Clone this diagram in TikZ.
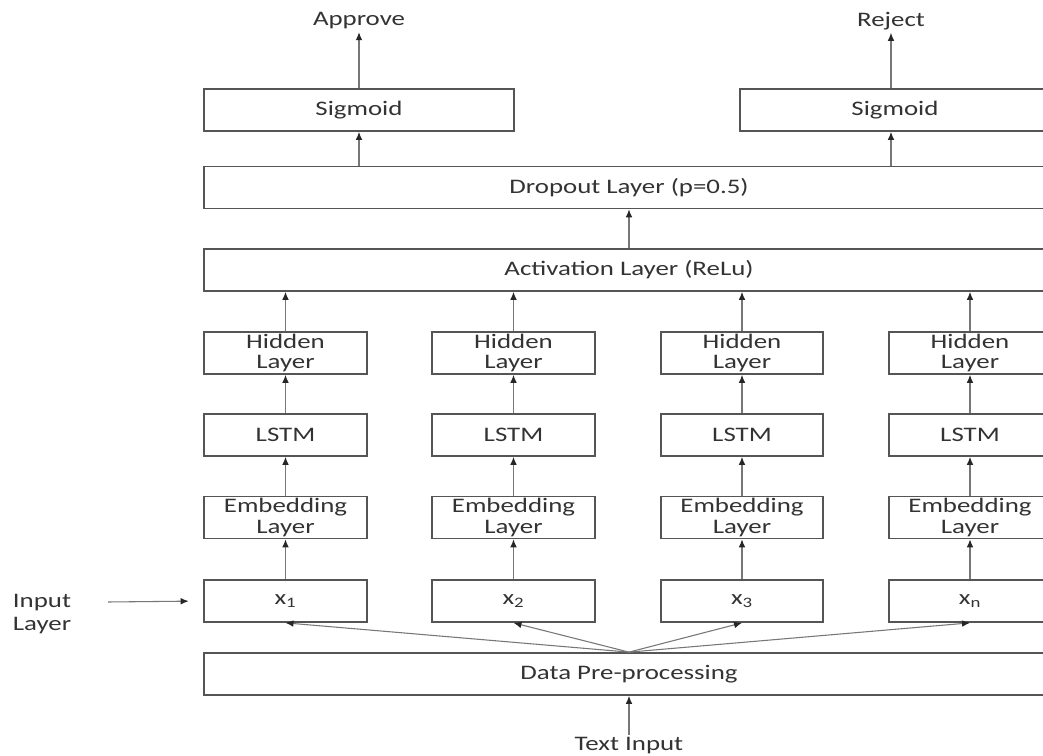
\documentclass[tikz,border=0pt]{standalone}
\usepackage{fontspec}
\setmainfont[FakeStretch=1.3]{Carlito}
\usetikzlibrary{arrows.meta,positioning}
\definecolor{boxline}{HTML}{555555}
\definecolor{arrline}{HTML}{777777}
\definecolor{txt}{HTML}{333333}
\begin{document}
\begin{tikzpicture}[x=0.75pt,y=-0.75pt,>={Latex[length=6pt,width=5pt,color=black!85]},
  layer/.style={draw=boxline,line width=1.3pt,fill=white,inner sep=0pt,minimum height=31.5pt,text=txt,font=\fontsize{15.5}{15.5}\selectfont,align=center},
  col node/.style={layer,minimum width=122pt},
  wide node/.style={layer,minimum width=637.5pt},
  out node/.style={layer,minimum width=232.5pt},
  flow/.style={->,draw=arrline,line width=0.8pt},
  lbl/.style={text=txt,font=\fontsize{15.5}{17}\selectfont,inner sep=2pt}]
\useasboundingbox (0,0) rectangle (1043,756);
\fill[white] (0,0) rectangle (1043,756);
\clip (0,0) rectangle (1043,756);
% output part
\node[lbl] (approve) at (359,21) {Approve};
\node[lbl] (reject) at (891,21) {Reject};
\node[out node] (sig1) at (359,110) {Sigmoid};
\node[out node] (sig2) at (895,110) {Sigmoid};
\node[wide node] (drop) at (629,187.5) {Dropout Layer (p=0.5)};
\node[wide node] (act) at (629,270) {Activation Layer (ReLu)};
% the four columns
\node[col node] (h1) at (285.5,353) {Hidden\\Layer};
\node[col node] (h2) at (513.5,353) {Hidden\\Layer};
\node[col node] (h3) at (742,353) {Hidden\\Layer};
\node[col node] (h4) at (970,353) {Hidden\\Layer};
\node[col node] (l1) at (285.5,435) {LSTM};
\node[col node] (l2) at (513.5,435) {LSTM};
\node[col node] (l3) at (742,435) {LSTM};
\node[col node] (l4) at (970,435) {LSTM};
\node[col node] (e1) at (285.5,517.5) {Embedding\\Layer};
\node[col node] (e2) at (513.5,517.5) {Embedding\\Layer};
\node[col node] (e3) at (742,517.5) {Embedding\\Layer};
\node[col node] (e4) at (970,517.5) {Embedding\\Layer};
\node[col node] (x1) at (285.5,601) {x\textsubscript{1}};
\node[col node] (x2) at (513.5,601) {x\textsubscript{2}};
\node[col node] (x3) at (742,601) {x\textsubscript{3}};
\node[col node] (x4) at (970,601) {x\textsubscript{n}};
\node[wide node] (pre) at (629,674) {Data Pre-processing};
\node[lbl] (tin) at (629,746) {Text Input};
\node[lbl,anchor=west,align=left,font=\fontsize{15.5}{17}\selectfont] (inp) at (10,614) {Input\\Layer};
\coordinate (instart) at (108,602);
% connectors
\draw[flow] (sig1) -- (approve);
\draw[flow] (sig2.north -| reject) -- (reject);
\draw[flow] (drop.north -| sig1.south) -- (sig1.south);
\draw[flow] (drop.north -| reject) -- (sig2.south -| reject);
\draw[flow] (act) -- (drop);
\draw[flow] (h1) -- (act.south -| h1);
\draw[flow] (h2) -- (act.south -| h2);
\draw[flow] (h3) -- (act.south -| h3);
\draw[flow] (h4) -- (act.south -| h4);
\draw[flow] (l1) -- (h1);
\draw[flow] (l2) -- (h2);
\draw[flow] (l3) -- (h3);
\draw[flow] (l4) -- (h4);
\draw[flow] (e1) -- (l1);
\draw[flow] (e2) -- (l2);
\draw[flow] (e3) -- (l3);
\draw[flow] (e4) -- (l4);
\draw[flow] (x1) -- (e1);
\draw[flow] (x2) -- (e2);
\draw[flow] (x3) -- (e3);
\draw[flow] (x4) -- (e4);
\draw[flow] (pre.north) -- (x1.south);
\draw[flow] (pre.north) -- (x2.south);
\draw[flow] (pre.north) -- (x3.south);
\draw[flow] (pre.north) -- (x4.south);
\draw[flow] (tin) -- (pre);
\draw[flow,shorten >=11pt] (instart) -- (x1.west);
\end{tikzpicture}
\end{document}
